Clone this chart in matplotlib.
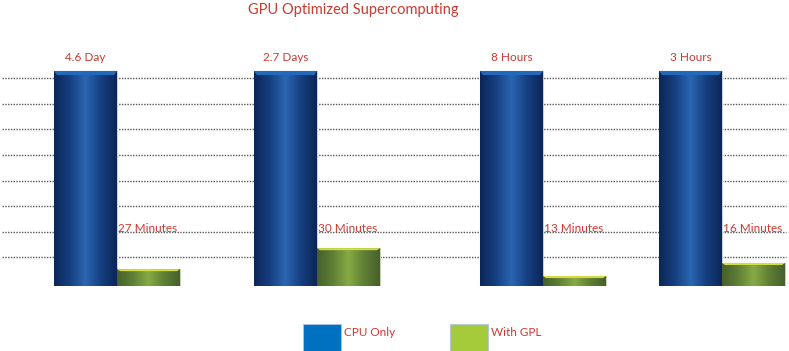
import numpy as np
import matplotlib
matplotlib.use("Agg")
import matplotlib.pyplot as plt
from matplotlib.colors import LinearSegmentedColormap
from matplotlib.patches import Rectangle, Polygon

# ---- data (relative bar heights, in gridline units) ----
categories = ["A", "B", "C", "D"]
cpu_values = [8.4, 8.4, 8.4, 8.4]
gpu_values = [0.66, 1.48, 0.39, 0.90]
cpu_labels = ["4.6 Day", "2.7 Days", "8 Hours", "3 Hours"]
gpu_labels = ["27 Minutes", "30 Minutes", "13 Minutes", "16 Minutes"]
series_names = ["CPU Only", "With GPL"]
title = "GPU Optimized Supercomputing"

# ---- layout ----
W, H, DPI = 789, 351, 100
group_pos = [117, 317, 543, 722]   # x (px) of the boundary between the two bars
bar_w = 63
unit = 25.6                        # px per unit
base_px = 286                      # baseline, px from top
top_px = 30
grid_levels = [k + 0.12 for k in range(1, 9)]
label_font = ["Lato", "DejaVu Sans"]
red = "#cc3a30"

fig = plt.figure(figsize=(W / DPI, H / DPI), dpi=DPI)
ax = fig.add_axes([0, (H - base_px) / H, 1, (base_px - top_px) / H])
ax.set_xlim(0, W)
ax.set_ylim(0, (base_px - top_px) / unit)
ax.axis("off")

# dotted gridlines
for g in grid_levels:
    ax.plot([2, 786], [g, g], color="#555555", lw=1.0, ls=(0, (1, 1)), zorder=1)

blue_cmap = LinearSegmentedColormap.from_list(
    "b", ["#0c2656", "#163f80", "#2b66b2", "#163f80", "#0c2656"])
green_cmap = LinearSegmentedColormap.from_list(
    "g", ["#46602c", "#5f7f35", "#86ab44", "#5f7f35", "#46602c"])
grad = np.linspace(0, 1, 256).reshape(1, -1)

cpu_x = [p - bar_w / 2 for p in group_pos]
gpu_x = [p + bar_w / 2 for p in group_pos]

cpu_bars = ax.bar(cpu_x, cpu_values, width=bar_w, color="#1a4a90",
                  edgecolor="#c8cfdc", linewidth=0.8, zorder=2)
gpu_bars = ax.bar(gpu_x, gpu_values, width=bar_w, color="#6a8c3a",
                  edgecolor="#c8d0b8", linewidth=0.8, zorder=2)

def shade(bars, cmap, cap_color, cap_h):
    for b in bars:
        x0, y0 = b.get_x(), b.get_y()
        w, h = b.get_width(), b.get_height()
        im = ax.imshow(grad, cmap=cmap, aspect="auto",
                       extent=[x0, x0 + w, y0, y0 + h], zorder=3,
                       interpolation="bilinear")
        im.set_clip_path(b)
        # bevelled top cap
        d = 3
        cap = Polygon([[x0, y0 + h], [x0 + w, y0 + h],
                       [x0 + w - d, y0 + h - cap_h], [x0 + d, y0 + h - cap_h]],
                      closed=True, color=cap_color, zorder=4, lw=0)
        ax.add_patch(cap)

shade(cpu_bars, blue_cmap, "#2069bb", 0.16)
shade(gpu_bars, green_cmap, "#d6dc46", 0.08)
ax.set_xlim(0, W)
ax.set_ylim(0, (base_px - top_px) / unit)

# labels
for b, lab in zip(cpu_bars, cpu_labels):
    ax.annotate(lab, (b.get_x() + b.get_width() / 2, b.get_height()),
                xytext=(0, 9.5), textcoords="offset points",
                ha="center", va="center", color=red, fontsize=8.5,
                family=label_font, zorder=6)
for b, lab in zip(gpu_bars, gpu_labels):
    ax.text(b.get_x() + 1, 2.25, lab, ha="left", va="center", color=red,
            fontsize=8.5, family=label_font, zorder=6)

fig.text(353 / W, 1 - 10 / H, title, ha="center", va="center", color=red,
         fontsize=10.5, family=label_font)

# legend
legend_colors = ["#0070c0", "#a6cb3a"]
legend_x = [303, 450]
for lx, c, name in zip(legend_x, legend_colors, series_names):
    fig.patches.append(Rectangle((lx / W, 0), 38 / W, (H - 324) / H,
                                 transform=fig.transFigure, facecolor=c,
                                 edgecolor="#b0c4de", lw=0.6))
    fig.text((lx + 41) / W, 1 - 333 / H, name, ha="left", va="center",
             color=red, fontsize=8.5, family=label_font)

fig.savefig("out.png", dpi=DPI)
